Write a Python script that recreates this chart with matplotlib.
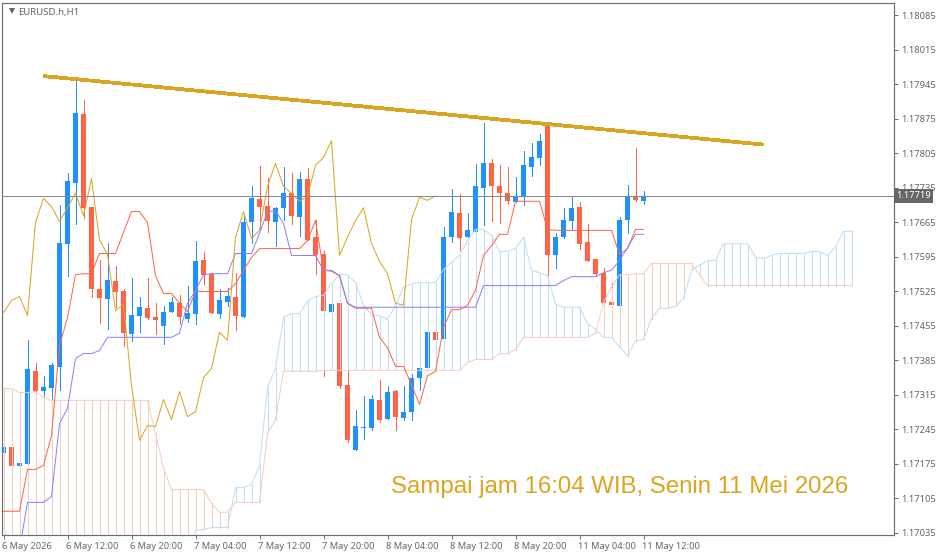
import numpy as np
import matplotlib
matplotlib.use('Agg')
import matplotlib.pyplot as plt
from matplotlib.transforms import ScaledTranslation

# all prices in points above 1.17000
opens = [198, 210, 170, 174, 363, 324, 330, 371, 622, 746, 886, 697, 529, 509, 547, 525, 438, 476, 491, 474,
         454, 484, 501, 470, 480, 588, 561, 480, 503, 513, 474, 665, 712, 699, 665, 695, 724, 677, 754, 635,
         602, 484, 501, 336, 204, 247, 247, 304, 267, 324, 269, 281, 350, 369, 442, 428, 635, 685, 635, 645,
         734, 785, 740, 724, 706, 716, 777, 795, 864, 600, 635, 667, 697, 626, 590, 563, 503, 495, 671, 718, 708]
highs = [210, 210, 176, 426, 379, 354, 379, 701, 766, 961, 913, 697, 588, 624, 576, 531, 553, 513, 553, 501,
         495, 513, 517, 537, 628, 606, 563, 531, 533, 563, 681, 738, 779, 756, 697, 777, 766, 768, 775, 671,
         608, 499, 501, 363, 284, 312, 314, 346, 334, 326, 334, 357, 369, 442, 442, 655, 732, 722, 685, 783,
         866, 793, 781, 777, 758, 811, 827, 844, 864, 643, 695, 716, 706, 661, 590, 572, 543, 677, 742, 817, 728]
lows = [198, 170, 170, 174, 324, 308, 304, 326, 557, 661, 675, 513, 462, 448, 493, 415, 424, 442, 470, 438,
        419, 484, 460, 464, 460, 541, 482, 472, 495, 446, 474, 624, 649, 645, 618, 671, 661, 637, 630, 561,
        354, 484, 330, 219, 204, 225, 243, 261, 267, 243, 265, 265, 326, 369, 426, 428, 626, 610, 635, 645,
        659, 667, 663, 703, 706, 701, 760, 781, 555, 572, 633, 651, 612, 586, 557, 501, 497, 495, 643, 708, 703]
closes = [210, 170, 176, 367, 324, 332, 375, 624, 750, 888, 695, 531, 511, 549, 523, 440, 478, 493, 472, 468,
          484, 503, 474, 482, 586, 559, 482, 507, 515, 476, 665, 714, 697, 667, 695, 724, 679, 754, 630, 600,
          486, 499, 334, 223, 253, 251, 306, 265, 322, 271, 281, 350, 369, 442, 426, 635, 687, 633, 649, 738,
          785, 738, 724, 708, 718, 781, 797, 831, 598, 635, 669, 695, 622, 586, 561, 501, 497, 671, 716, 710, 719]

tenkan = [79, 79, 79, 164, 164, 172, 233, 415, 472, 559, 561, 561, 602, 602, 602, 645, 687, 687, 665, 557,
          521, 521, 501, 484, 525, 525, 525, 525, 525, 541, 568, 594, 612, 612, 612, 612, 612, 612, 628, 669,
          568, 566, 557, 501, 491, 491, 491, 432, 411, 373, 373, 336, 296, 354, 363, 452, 488, 488, 497, 527,
          598, 618, 641, 641, 708, 708, 708, 708, 651, 649, 649, 649, 649, 649, 649, 649, 649, 600, 612, 651, 651]
kijun = [2, 2, 2, 97, 97, 97, 109, 257, 288, 389, 399, 399, 405, 432, 432, 432, 432, 432, 432, 432,
         432, 432, 440, 501, 527, 559, 561, 561, 561, 602, 602, 602, 643, 687, 689, 663, 598, 598, 598, 598,
         568, 568, 557, 501, 493, 493, 493, 493, 493, 493, 493, 493, 493, 493, 493, 493, 493, 493, 493, 493,
         537, 537, 537, 537, 537, 537, 537, 537, 537, 537, 547, 555, 555, 555, 555, 563, 568, 588, 614, 641, 641]
span_a = [46, 6, -21, -21, -21, -21, -21, -21, -21, -21, -21, -21, -21, -21, -21, -21, -21, -21, -21, -21,
          -21, -21, -21, -21, 40, 42, 46, 46, 46, 127, 127, 133, 172, 330, 369, 472, 480, 480, 505, 515,
          517, 541, 559, 559, 543, 497, 478, 476, 468, 497, 533, 541, 543, 543, 543, 570, 584, 598, 628, 651,
          651, 639, 606, 606, 612, 635, 568, 563, 557, 499, 493, 493, 493, 460, 448, 432, 432, 413, 395, 424,
          428, 470, 491, 491, 495, 511, 568, 578, 588, 588, 622, 622, 622, 622, 594, 592, 598, 602, 602, 602,
          602, 606, 606, 598, 616, 647, 647]
span_b = [328, 328, 320, 320, 322, 310, 304, 304, 304, 304, 304, 304, 304, 304, 304, 304, 304, 304, 304, 237,
          166, 123, 123, 123, 123, 123, 95, 77, 77, 97, 97, 97, 97, 237, 265, 363, 363, 363, 363, 363,
          365, 365, 365, 365, 365, 365, 365, 365, 365, 365, 365, 365, 365, 365, 365, 365, 365, 365, 381, 387,
          387, 387, 399, 399, 407, 432, 432, 432, 432, 432, 432, 432, 432, 432, 440, 503, 533, 559, 559, 561,
          561, 582, 582, 582, 582, 582, 582, 559, 537, 537, 537, 537, 537, 537, 537, 537, 537, 537, 537, 537,
          537, 537, 537, 537, 537, 537, 537]

trend_bars = [5, 95]
trend_points = [962, 823]
last_price = 719

y_ticks = list(range(35, 1086, 70))
x_ticks = list(range(0, 81, 8))
x_labels = ['6 May 2026', '6 May 12:00', '6 May 20:00', '7 May 04:00', '7 May 12:00', '7 May 20:00',
            '8 May 04:00', '8 May 12:00', '8 May 20:00', '11 May 04:00', '11 May 12:00']

BLUE = '#1E90FF'
RED = '#FF6347'
GOLD = '#DAA520'
PURPLE = '#8A80FF'
CLOUD_A = '#BEDDF8'
CLOUD_B = '#F5CDBE'
AXIS = '#6E6E6E'
TEXT = '#5F6670'
LW = 0.72


def to_price(a):
    return 1.17 + np.array(a, dtype=float) / 100000


W, H = 939, 555
fig = plt.figure(figsize=(W / 100, H / 100), dpi=100)
ax = fig.add_axes([2.0 / W, 1 - 534.5 / H, 891.5 / W, 532 / H])
ax.set_xlim(-0.1875, 111.25)
ax.set_ylim(to_price(31.9), to_price(1111.3))

o, h, l, c = to_price(opens), to_price(highs), to_price(lows), to_price(closes)
bars = np.arange(len(opens))
colors = [BLUE if c[i] >= o[i] else RED for i in bars]

# candles
ax.vlines(bars, l, h, colors=colors, linewidth=LW, antialiased=False, zorder=2)
ax.bar(bars, np.abs(c - o), bottom=np.minimum(o, c), width=0.62, color=colors,
       linewidth=0, antialiased=False, zorder=3)

# cloud hatching, one line per bar
a, b = to_price(span_a), to_price(span_b)
cloud_x = np.arange(len(span_a))
cloud_colors = [CLOUD_A if a[i] >= b[i] else CLOUD_B for i in cloud_x]
ax.vlines(cloud_x, np.minimum(a, b), np.maximum(a, b), colors=cloud_colors, linewidth=LW,
          antialiased=False, zorder=4)
ax.plot(cloud_x, a, color=CLOUD_A, lw=LW, zorder=5)
ax.plot(cloud_x, b, color=CLOUD_B, lw=LW, zorder=5)

# ichimoku lines, chikou is just the closes moved back 26 bars
ax.plot(bars, to_price(tenkan), color=RED, lw=LW, zorder=6)
ax.plot(bars, to_price(kijun), color=PURPLE, lw=LW, zorder=6)
ax.plot(bars[:-26], c[26:], color=GOLD, lw=LW, zorder=6)

ax.axhline(to_price(last_price), color='#808A90', lw=LW, antialiased=False, zorder=7)
ax.plot(trend_bars, to_price(trend_points), color=GOLD, lw=2.0, antialiased=False, zorder=8,
        solid_capstyle='butt')

# axes
ax.yaxis.tick_right()
ax.set_yticks(to_price(y_ticks))
ax.set_yticklabels(['%.5f' % p for p in to_price(y_ticks)])
ax.set_xticks(x_ticks)
ax.set_xticklabels(x_labels, ha='left')
ax.tick_params(axis='y', length=3.2, width=LW, color=AXIS, pad=2.2, labelsize=6.7, labelcolor=TEXT)
ax.tick_params(axis='x', length=3.2, width=LW, color=AXIS, pad=2, labelsize=6.7, labelcolor=TEXT)
nudge = ScaledTranslation(-1.5 / 100, 0, fig.dpi_scale_trans)
for lab in ax.get_xticklabels():
    lab.set_fontfamily('Noto Sans')
    lab.set_transform(lab.get_transform() + nudge)
for lab in ax.get_yticklabels():
    lab.set_fontfamily('Noto Sans')
for s in ax.spines.values():
    s.set_color(AXIS)
    s.set_linewidth(0.85)

ax.text(1.0028, to_price(last_price), '%.5f' % to_price(last_price), transform=ax.get_yaxis_transform(),
        ha='left', va='center', fontsize=6.7, family='Noto Sans', color='white', clip_on=False, zorder=20,
        bbox=dict(boxstyle='square,pad=0.25', facecolor='#666666', edgecolor='none'))

# header and note
ax.plot([9.5 / 891], [1 - 8.5 / 532], marker='v', ms=4.2, color='#666666', mew=0, transform=ax.transAxes)
fig.text(18 / W, 1 - 14.5 / H, 'EURUSD.h,H1', fontsize=6.9, family='Noto Sans', color=TEXT)
fig.text(391 / W, 1 - 492.5 / H, 'Sampai jam 16:04 WIB, Senin 11 Mei 2026', fontsize=17.3,
         family='Liberation Sans', color=GOLD)

fig.savefig('out.png', dpi=100)
